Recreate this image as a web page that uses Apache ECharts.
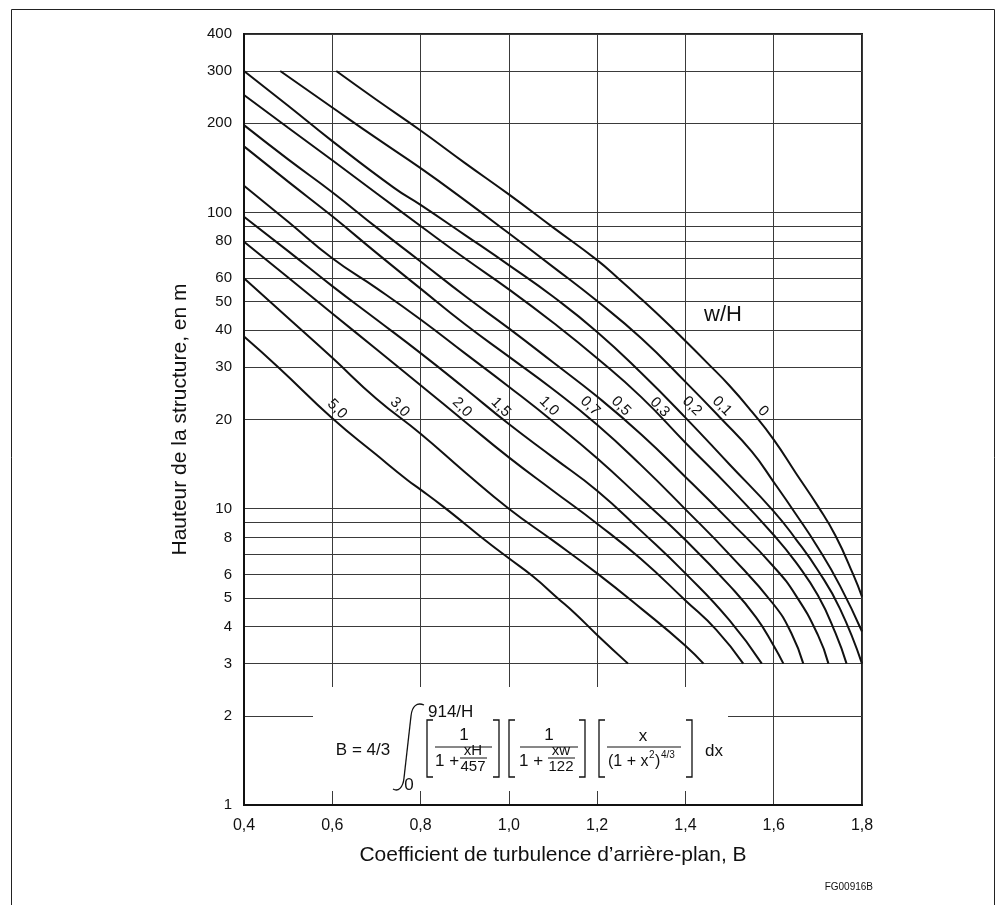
<!DOCTYPE html>
<html>
<head>
<meta charset="utf-8">
<script src="https://cdn.jsdelivr.net/npm/echarts@6/dist/echarts.min.js"></script>
<style>
html,body{margin:0;padding:0;background:#fff;}
#chart{width:1007px;height:905px;}
</style>
</head>
<body>
<div id="chart"></div>
<script>
// ---------------- data ----------------
const xTickValues = [0.4, 0.6, 0.8, 1.0, 1.2, 1.4, 1.6, 1.8];
const yGridValues = [1, 2, 3, 4, 5, 6, 7, 8, 9, 10, 20, 30, 40, 50, 60, 70, 80, 90, 100, 200, 300, 400];
const yLabelValues = [1, 2, 3, 4, 5, 6, 8, 10, 20, 30, 40, 50, 60, 80, 100, 200, 300, 400];

// curves: [B, H]
const curve_0 = [[0.609,300],[0.7,240],[0.8,189],[0.9,147],[1.0,115],[1.1,89],[1.2,69],[1.25,59.5],[1.3,51],[1.35,43.5],[1.4,36.8],[1.45,31],[1.5,26],[1.55,21.3],[1.6,17.1],[1.65,13.2],[1.7,10.2],[1.74,8.1],[1.78,6.0],[1.8,5.05]];
const curve_01 = [[0.482,300],[0.6,226],[0.7,178],[0.8,141],[0.9,110],[1.0,85],[1.1,65.5],[1.2,50.2],[1.3,37.6],[1.4,26.8],[1.48,20.2],[1.55,15.6],[1.6,12.3],[1.65,9.6],[1.7,7.4],[1.75,5.5],[1.8,3.85]];
const curve_02 = [[0.4,300],[0.5,229],[0.6,174],[0.74,121],[0.8,106],[0.9,84],[1.0,66.4],[1.1,52],[1.2,39.5],[1.3,28.7],[1.4,20.3],[1.5,14.1],[1.6,9.8],[1.65,7.9],[1.7,6.2],[1.75,4.6],[1.8,3.0]];
const curve_03 = [[0.4,249],[0.5,193],[0.6,150],[0.7,116],[0.8,90],[0.9,70],[1.0,55],[1.1,42.5],[1.2,32.2],[1.3,23.8],[1.4,16.7],[1.5,11.8],[1.6,8.15],[1.65,6.6],[1.7,5.1],[1.74,3.8],[1.765,3.0]];
const curve_05 = [[0.4,197],[0.5,151],[0.6,117],[0.7,89],[0.8,68.3],[0.9,52.3],[1.0,40.6],[1.1,31.2],[1.2,23.9],[1.3,17.8],[1.4,12.8],[1.5,9.1],[1.6,6.37],[1.65,5.1],[1.7,3.75],[1.724,3.0]];
const curve_07 = [[0.4,167],[0.5,127],[0.6,97],[0.7,73],[0.8,55.3],[0.9,42],[1.0,32.6],[1.1,25.3],[1.2,19.2],[1.3,14],[1.4,9.95],[1.5,7.0],[1.6,4.75],[1.64,3.8],[1.667,3.0]];
const curve_10 = [[0.4,123],[0.5,93],[0.6,70],[0.7,55.5],[0.8,43.5],[0.9,33.5],[1.0,25.8],[1.1,19.7],[1.2,14.8],[1.3,10.8],[1.4,7.84],[1.5,5.5],[1.56,4.3],[1.6,3.45],[1.622,3.0]];
const curve_15 = [[0.4,96.7],[0.5,74],[0.6,56.4],[0.7,43.5],[0.8,33.5],[0.9,25.5],[1.0,19.3],[1.1,14.9],[1.2,11.5],[1.3,8.4],[1.4,6.05],[1.5,4.2],[1.573,3.0]];
const curve_20 = [[0.4,79.6],[0.5,60.3],[0.6,45.6],[0.7,34.5],[0.8,26.1],[0.9,19.7],[1.0,14.9],[1.1,11.5],[1.2,8.9],[1.3,6.75],[1.4,4.9],[1.47,3.9],[1.531,3.0]];
const curve_30 = [[0.4,59.9],[0.5,44],[0.6,32.3],[0.7,23.5],[0.8,17.9],[0.9,13.3],[1.0,10.0],[1.1,7.8],[1.2,6.05],[1.3,4.6],[1.4,3.45],[1.441,3.0]];
const curve_50 = [[0.4,38.1],[0.48,29.8],[0.6,20.2],[0.7,15.2],[0.77,12.5],[0.8,11.6],[0.85,10.2],[0.9,8.9],[0.95,7.75],[1.0,6.8],[1.055,5.9],[1.11,5.0],[1.15,4.43],[1.2,3.75],[1.27,3.0]];

const curveNames = ['0','0,1','0,2','0,3','0,5','0,7','1,0','1,5','2,0','3,0','5,0'];
const curveData = [curve_0, curve_01, curve_02, curve_03, curve_05, curve_07, curve_10, curve_15, curve_20, curve_30, curve_50];

// curve labels: [text, B, H]
const curveLabels = [['5,0',0.611,21.7],['3,0',0.753,22.0],['2,0',0.894,22.0],['1,5',0.982,22.0],['1,0',1.091,22.2],['0,7',1.184,22.2],['0,5',1.254,22.2],['0,3',1.342,22.0],['0,2',1.415,22.2],['0,1',1.483,22.2],['0',1.576,21.3]];
const paramLabel = [['w/H',1.485,45.1]];

const xTitle = 'Coefficient de turbulence d\u2019arrière-plan, B';
const yTitle = 'Hauteur de la structure, en m';
const figCode = 'FG00916B';

// ---------------- chart ----------------
const FONT = '"Liberation Sans", Arial, Helvetica, sans-serif';
const INK = '#111111';
const chart = echarts.init(document.getElementById('chart'), null, {renderer: 'canvas'});

function txt(text, x, y, size, align) {
  return {
    type: 'text', x: x, y: y, z: 60,
    style: {
      text: text, fill: INK, fontSize: size, fontFamily: FONT,
      font: size + 'px ' + FONT,
      align: align || 'center', textAlign: align || 'center',
      verticalAlign: 'middle', textVerticalAlign: 'middle'
    }
  };
}
function pline(points, w) {
  return {type: 'polyline', z: 60, shape: {points: points}, style: {stroke: INK, lineWidth: w || 1.3, fill: null}};
}

const series = curveData.map((d, i) => ({
  type: 'line', name: curveNames[i], data: d,
  showSymbol: false, symbol: 'none', smooth: 0.5,
  lineStyle: {color: '#111', width: 2}, silent: true, z: 3, animation: false
}));
const labelBase = {show: true, position: 'inside', formatter: p => p.name,
  color: INK, fontFamily: FONT, textBorderWidth: 0, textBorderColor: 'transparent',
  textShadowBlur: 0, opacity: 1};
series.push({
  type: 'scatter', silent: true, symbolSize: 1, z: 5,
  itemStyle: {color: '#ffffff', opacity: 1},
  data: curveLabels.map(d => ({value: [d[1], d[2]], name: d[0]})),
  label: Object.assign({}, labelBase, {rotate: -45, fontSize: 15})
});
series.push({
  type: 'scatter', silent: true, symbolSize: 1, z: 5,
  itemStyle: {color: '#ffffff', opacity: 1},
  data: paramLabel.map(d => ({value: [d[1], d[2]], name: d[0]})),
  label: Object.assign({}, labelBase, {fontSize: 22})
});

const graphics = [
  // outer frame
  {type: 'rect', z: 60, shape: {x: 11.5, y: 9.5, width: 983, height: 930},
   style: {fill: null, stroke: '#222', lineWidth: 1}},
  // blank area for the formula
  {type: 'rect', z: 50, shape: {x: 313, y: 687, width: 415, height: 104},
   style: {fill: '#ffffff'}},
  txt('B = 4/3', 363, 750, 17),
  // integral sign
  {type: 'bezierCurve', z: 60,
   shape: {x1: 393, y1: 789, cpx1: 398, cpy1: 792, cpx2: 403, cpy2: 788, x2: 404, y2: 778},
   style: {stroke: INK, lineWidth: 1.3, fill: null}},
  {type: 'line', z: 60, shape: {x1: 404, y1: 778, x2: 411, y2: 716},
   style: {stroke: INK, lineWidth: 1.3}},
  {type: 'bezierCurve', z: 60,
   shape: {x1: 411, y1: 716, cpx1: 412, cpy1: 706, cpx2: 417, cpy2: 702, x2: 424, y2: 705},
   style: {stroke: INK, lineWidth: 1.3, fill: null}},
  txt('914/H', 428, 712, 17, 'left'),
  txt('0', 409, 785, 17),
  // bracket 1
  pline([[433,720],[427,720],[427,777],[433,777]]),
  pline([[493,720],[499,720],[499,777],[493,777]]),
  txt('1', 464, 735, 17),
  pline([[435,747],[492,747]], 1),
  txt('1 +', 435, 761, 17, 'left'),
  txt('xH', 473, 751, 15),
  pline([[460,758],[487,758]], 1),
  txt('457', 473, 767, 15),
  // bracket 2
  pline([[515,720],[509,720],[509,777],[515,777]]),
  pline([[579,720],[585,720],[585,777],[579,777]]),
  txt('1', 549, 735, 17),
  pline([[520,747],[578,747]], 1),
  txt('1 +', 519, 761, 17, 'left'),
  txt('xw', 561, 751, 15),
  pline([[548,758],[575,758]], 1),
  txt('122', 561, 767, 15),
  // bracket 3
  pline([[605,720],[599,720],[599,777],[605,777]]),
  pline([[686,720],[692,720],[692,777],[686,777]]),
  txt('x', 643, 736, 17),
  pline([[607,747],[681,747]], 1),
  txt('(1 + x', 608, 762, 16, 'left'),
  txt('2', 649, 755, 10, 'left'),
  txt(')', 655, 762, 16, 'left'),
  txt('4/3', 661, 755, 10, 'left'),
  txt('dx', 714, 751, 17),
  // figure code
  txt(figCode, 873, 887, 10, 'right')
];

const option = {
  animation: false,
  backgroundColor: '#ffffff',
  textStyle: {fontFamily: FONT, color: INK},
  grid: {left: 244, right: 145, top: 34, bottom: 100, show: true,
         borderColor: '#222', borderWidth: 2, backgroundColor: 'transparent',
         containLabel: false, outerBoundsMode: 'none'},
  xAxis: {
    type: 'value', min: 0.4, max: 1.8, interval: 0.2,
    axisLine: {show: true, onZero: false, lineStyle: {color: '#111', width: 2}},
    axisTick: {show: false},
    axisLabel: {fontSize: 16, color: INK, margin: 13, fontFamily: FONT,
                formatter: v => v.toFixed(1).replace('.', ',')},
    splitLine: {show: true, lineStyle: {color: '#3a3a3a', width: 1}},
    name: xTitle, nameLocation: 'middle', nameGap: 40,
    nameTextStyle: {fontSize: 21, color: INK, fontFamily: FONT}
  },
  yAxis: {
    type: 'log', logBase: 10, min: 1, max: 400,
    axisLine: {show: true, onZero: false, lineStyle: {color: '#111', width: 2}},
    axisTick: {show: false, customValues: yGridValues},
    axisLabel: {customValues: yLabelValues, fontSize: 15, color: INK, margin: 12, fontFamily: FONT,
                formatter: v => String(Math.round(v))},
    splitLine: {show: true, lineStyle: {color: '#3a3a3a', width: 1}},
    minorTick: {show: false}, minorSplitLine: {show: false},
    name: yTitle, nameLocation: 'middle', nameGap: 53, nameRotate: 90,
    nameTextStyle: {fontSize: 21, color: INK, fontFamily: FONT}
  },
  series: series,
  graphic: {elements: graphics}
};
chart.setOption(option);
</script>
</body>
</html>
